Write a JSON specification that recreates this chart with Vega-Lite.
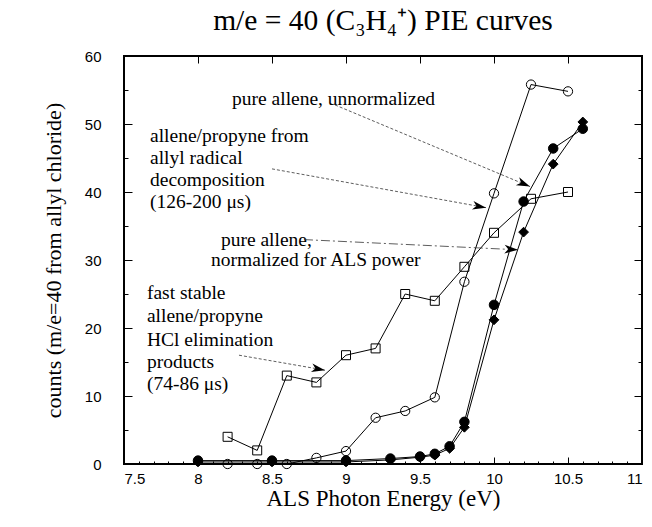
{
  "$schema": "https://vega.github.io/schema/vega-lite/v6.json",
  "width": 518,
  "height": 408,
  "autosize": {"type": "none"},
  "padding": {"left": 124, "top": 56, "right": 10, "bottom": 63},
  "background": "white",
  "title": {
    "text": "m/e = 40 (C₃H₄⁺) PIE curves",
    "font": "Liberation Serif",
    "fontSize": 29.5,
    "fontWeight": "normal",
    "color": "black",
    "anchor": "middle",
    "baseline": "alphabetic",
    "offset": 21,
    "dy": 31
  },
  "config": {
    "view": {"stroke": "black", "strokeWidth": 2},
    "axis": {
      "grid": false,
      "domain": false,
      "tickColor": "black",
      "labelColor": "black",
      "titleColor": "black",
      "labelFont": "Liberation Sans",
      "labelFontSize": 15,
      "titleFont": "Liberation Serif",
      "titleFontSize": 22,
      "titleFontWeight": "normal",
      "labelOverlap": false
    }
  },
  "datasets": {
    "series": [
      {"series": "HCl elimination", "x": 8.2, "y": 4},
      {"series": "HCl elimination", "x": 8.4, "y": 2},
      {"series": "HCl elimination", "x": 8.6, "y": 13},
      {"series": "HCl elimination", "x": 8.8, "y": 12},
      {"series": "HCl elimination", "x": 9.0, "y": 16},
      {"series": "HCl elimination", "x": 9.2, "y": 17},
      {"series": "HCl elimination", "x": 9.4, "y": 25},
      {"series": "HCl elimination", "x": 9.6, "y": 24},
      {"series": "HCl elimination", "x": 9.8, "y": 29},
      {"series": "HCl elimination", "x": 10.0, "y": 34},
      {"series": "HCl elimination", "x": 10.25, "y": 39},
      {"series": "HCl elimination", "x": 10.5, "y": 40},
      {"series": "pure allene unnormalized", "x": 8.2, "y": 0},
      {"series": "pure allene unnormalized", "x": 8.4, "y": 0},
      {"series": "pure allene unnormalized", "x": 8.6, "y": 0},
      {"series": "pure allene unnormalized", "x": 8.8, "y": 0.9},
      {"series": "pure allene unnormalized", "x": 9.0, "y": 1.9},
      {"series": "pure allene unnormalized", "x": 9.2, "y": 6.8},
      {"series": "pure allene unnormalized", "x": 9.4, "y": 7.8},
      {"series": "pure allene unnormalized", "x": 9.6, "y": 9.8},
      {"series": "pure allene unnormalized", "x": 9.8, "y": 26.8},
      {"series": "pure allene unnormalized", "x": 10.0, "y": 39.8},
      {"series": "pure allene unnormalized", "x": 10.25, "y": 55.8},
      {"series": "pure allene unnormalized", "x": 10.5, "y": 54.8},
      {"series": "allyl radical decomposition", "x": 8.0, "y": 0.5},
      {"series": "allyl radical decomposition", "x": 8.5, "y": 0.5},
      {"series": "allyl radical decomposition", "x": 9.0, "y": 0.5},
      {"series": "allyl radical decomposition", "x": 9.3, "y": 0.8},
      {"series": "allyl radical decomposition", "x": 9.5, "y": 1.1},
      {"series": "allyl radical decomposition", "x": 9.6, "y": 1.5},
      {"series": "allyl radical decomposition", "x": 9.7, "y": 2.6},
      {"series": "allyl radical decomposition", "x": 9.8, "y": 6.2},
      {"series": "allyl radical decomposition", "x": 10.0, "y": 23.4},
      {"series": "allyl radical decomposition", "x": 10.2, "y": 38.6},
      {"series": "allyl radical decomposition", "x": 10.4, "y": 46.4},
      {"series": "allyl radical decomposition", "x": 10.6, "y": 49.3},
      {"series": "pure allene normalized", "x": 8.0, "y": 0.3},
      {"series": "pure allene normalized", "x": 8.5, "y": 0.3},
      {"series": "pure allene normalized", "x": 9.0, "y": 0.3},
      {"series": "pure allene normalized", "x": 9.3, "y": 0.6},
      {"series": "pure allene normalized", "x": 9.5, "y": 1.0},
      {"series": "pure allene normalized", "x": 9.6, "y": 1.3},
      {"series": "pure allene normalized", "x": 9.7, "y": 2.3},
      {"series": "pure allene normalized", "x": 9.8, "y": 5.4},
      {"series": "pure allene normalized", "x": 10.0, "y": 21.2},
      {"series": "pure allene normalized", "x": 10.2, "y": 34.1},
      {"series": "pure allene normalized", "x": 10.4, "y": 44.1},
      {"series": "pure allene normalized", "x": 10.6, "y": 50.3}
    ],
    "labels": [
      {"text": "pure allene, unnormalized", "x": 8.23, "y": 53.7},
      {"text": "allene/propyne from", "x": 7.676, "y": 48.3},
      {"text": "allyl radical", "x": 7.676, "y": 45.0},
      {"text": "decomposition", "x": 7.676, "y": 41.8},
      {"text": "(126-200 μs)", "x": 7.676, "y": 38.6},
      {"text": "pure allene,", "x": 8.155, "y": 33.0},
      {"text": "normalized for ALS power", "x": 8.088, "y": 30.0},
      {"text": "fast stable", "x": 7.655, "y": 25.1},
      {"text": "allene/propyne", "x": 7.655, "y": 21.7},
      {"text": "HCl elimination", "x": 7.655, "y": 18.3},
      {"text": "products", "x": 7.655, "y": 15.0},
      {"text": "(74-86 μs)", "x": 7.655, "y": 11.7}
    ],
    "arrows": [
      {"label": "unnormalized", "x": 8.926, "y": 52.8, "x2": 10.243, "y2": 40.8},
      {"label": "allyl", "x": 8.5, "y": 43.4, "x2": 9.946, "y2": 37.7},
      {"label": "normalized", "x": 8.716, "y": 33.0, "x2": 10.162, "y2": 31.5},
      {"label": "HCl", "x": 8.277, "y": 16.0, "x2": 8.858, "y2": 13.8}
    ]
  },
  "resolve": {"axis": {"x": "independent", "y": "independent"}},
  "layer": [
    {
      "data": {"name": "series"},
      "mark": {"type": "line", "color": "black", "strokeWidth": 1},
      "encoding": {
        "x": {
          "field": "x", "type": "quantitative",
          "scale": {"domain": [7.5, 11], "nice": false, "zero": false},
          "axis": {
            "orient": "bottom",
            "title": "ALS Photon Energy (eV)",
            "titleFont": "Liberation Serif",
            "titleFontSize": 23,
            "values": [7.5,7.6,7.7,7.8,7.9,8,8.1,8.2,8.3,8.4,8.5,8.6,8.7,8.8,8.9,9,9.1,9.2,9.3,9.4,9.5,9.6,9.7,9.8,9.9,10,10.1,10.2,10.3,10.4,10.5,10.6,10.7,10.8,10.9,11],
            "labelExpr": "abs(datum.value*2 - round(datum.value*2)) < 0.001 ? format(datum.value, '~g') : ''",
            "tickSize": {"condition": {"test": "abs(datum.value*2 - round(datum.value*2)) < 0.001", "value": -7}, "value": -3},
            "labelPadding": 14,
            "titlePadding": -3
          }
        },
        "y": {
          "field": "y", "type": "quantitative",
          "scale": {"domain": [0, 60], "nice": false},
          "axis": {
            "orient": "left",
            "title": "counts (m/e=40 from allyl chloride)",
            "titleFont": "Liberation Serif",
            "titleFontSize": 22,
            "values": [0,5,10,15,20,25,30,35,40,45,50,55,60],
            "labelExpr": "datum.value % 10 == 0 ? datum.label : ''",
            "tickSize": {"condition": {"test": "datum.value % 10 == 0", "value": -8}, "value": -4},
            "labelPadding": 31,
            "titlePadding": 19
          }
        },
        "detail": {"field": "series"},
        "order": {"field": "x"}
      }
    },
    {
      "data": {"name": "series"},
      "mark": {"type": "point", "filled": true, "stroke": "black", "strokeWidth": 1, "opacity": 1},
      "encoding": {
        "x": {
          "field": "x", "type": "quantitative",
          "scale": {"domain": [7.5, 11], "nice": false, "zero": false},
          "axis": {"orient": "top", "title": null, "labels": false, "values": [7.5,8,8.5,9,9.5,10,10.5,11], "tickSize": -7}
        },
        "y": {
          "field": "y", "type": "quantitative",
          "scale": {"domain": [0, 60], "nice": false},
          "axis": {"orient": "right", "title": null, "labels": false, "values": [0,5,10,15,20,25,30,35,40,45,50,55,60],
            "tickSize": {"condition": {"test": "datum.value % 10 == 0", "value": -8}, "value": -4}}
        },
        "shape": {"field": "series", "type": "nominal", "legend": null,
          "scale": {"domain": ["HCl elimination", "pure allene unnormalized", "allyl radical decomposition", "pure allene normalized"],
                    "range": ["square", "circle", "circle", "diamond"]}},
        "fill": {"field": "series", "type": "nominal", "legend": null,
          "scale": {"domain": ["HCl elimination", "pure allene unnormalized", "allyl radical decomposition", "pure allene normalized"],
                    "range": ["transparent", "transparent", "black", "black"]}},
        "size": {"field": "series", "type": "nominal", "legend": null,
          "scale": {"domain": ["HCl elimination", "pure allene unnormalized", "allyl radical decomposition", "pure allene normalized"],
                    "range": [81, 95, 100, 70]}}
      }
    },
    {
      "data": {"name": "labels"},
      "mark": {"type": "text", "align": "left", "baseline": "middle", "font": "Liberation Serif", "fontSize": 19.5, "color": "black"},
      "encoding": {
        "x": {"field": "x", "type": "quantitative", "axis": null},
        "y": {"field": "y", "type": "quantitative", "axis": null},
        "text": {"field": "text"}
      }
    },
    {
      "data": {"name": "arrows"},
      "mark": {"type": "rule", "color": "#333333", "strokeWidth": 0.8},
      "encoding": {
        "x": {"field": "x", "type": "quantitative", "axis": null},
        "y": {"field": "y", "type": "quantitative", "axis": null},
        "x2": {"field": "x2"},
        "y2": {"field": "y2"},
        "strokeDash": {"field": "label", "type": "nominal", "legend": null,
          "scale": {"domain": ["unnormalized", "allyl", "normalized", "HCl"],
                    "range": [[3, 2], [3, 2], [9, 3, 2, 3], [3, 2]]}}
      }
    },
    {
      "data": {"name": "arrows"},
      "transform": [
        {"calculate": "atan2(-(datum.y2 - datum.y) * 6.8, (datum.x2 - datum.x) * 148) * 180 / PI", "as": "angle"}
      ],
      "mark": {"type": "point", "filled": true, "color": "black", "opacity": 1,
               "shape": "M0,0L-1,-0.32L-0.72,0L-1,0.32Z", "size": 729, "strokeWidth": 0},
      "encoding": {
        "x": {"field": "x2", "type": "quantitative", "axis": null},
        "y": {"field": "y2", "type": "quantitative", "axis": null},
        "angle": {"field": "angle", "type": "quantitative", "scale": null}
      }
    }
  ]
}
